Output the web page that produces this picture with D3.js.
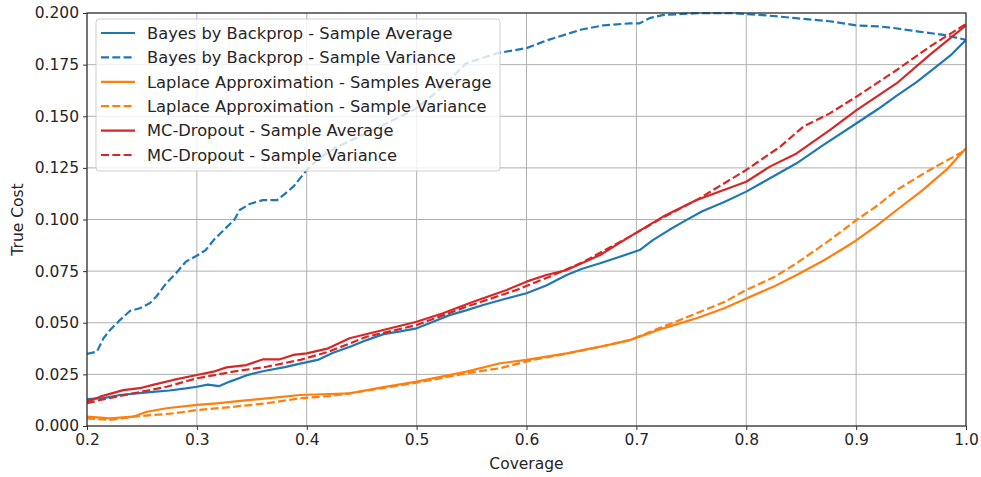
<!DOCTYPE html>
<html>
<head>
<meta charset="utf-8">
<script src="https://cdn.jsdelivr.net/npm/d3@7/dist/d3.min.js"></script>
<style>
  html, body { margin: 0; padding: 0; background: #fff; }
  svg { display: block; font-family: "DejaVu Sans", sans-serif; }
</style>
</head>
<body>
<svg id="chart" width="981" height="477"></svg>
<script>
// Coverage / true-cost curves for three uncertainty methods
const xTicks = [0.2, 0.3, 0.4, 0.5, 0.6, 0.7, 0.8, 0.9, 1.0];
const yTicks = [0.000, 0.025, 0.050, 0.075, 0.100, 0.125, 0.150, 0.175, 0.200];

const bayesAvg = [
  [0.200, 0.0130], [0.215, 0.0135], [0.230, 0.0150], [0.245, 0.0158], [0.260, 0.0165],
  [0.275, 0.0172], [0.290, 0.0182], [0.300, 0.0190], [0.310, 0.0200], [0.320, 0.0193],
  [0.330, 0.0215], [0.345, 0.0245], [0.360, 0.0265], [0.380, 0.0285], [0.394, 0.0302],
  [0.410, 0.0320], [0.424, 0.0355], [0.440, 0.0385], [0.4545, 0.0416], [0.470, 0.0445],
  [0.485, 0.0458], [0.500, 0.0473], [0.515, 0.0505], [0.530, 0.0537], [0.545, 0.0560],
  [0.5606, 0.0586], [0.580, 0.0615], [0.600, 0.0643], [0.618, 0.0680], [0.6365, 0.0731],
  [0.650, 0.0760], [0.667, 0.0788], [0.685, 0.0820], [0.703, 0.0852], [0.715, 0.0900],
  [0.730, 0.0950], [0.7457, 0.0998], [0.760, 0.1040], [0.780, 0.1085], [0.800, 0.1135],
  [0.820, 0.1195], [0.8458, 0.1272], [0.870, 0.1360], [0.9004, 0.1466], [0.920, 0.1535],
  [0.937, 0.1600], [0.955, 0.1665], [0.973, 0.1740], [0.987, 0.1800], [1.000, 0.1870]
];

const bayesVar = [
  [0.200, 0.0349], [0.209, 0.0360], [0.215, 0.0425], [0.221, 0.0465], [0.230, 0.0513],
  [0.239, 0.0557], [0.248, 0.0570], [0.257, 0.0594], [0.263, 0.0626], [0.272, 0.0690],
  [0.281, 0.0740], [0.290, 0.0796], [0.301, 0.0828], [0.308, 0.0852], [0.316, 0.0905],
  [0.334, 0.0998], [0.339, 0.1046], [0.348, 0.1075], [0.360, 0.1094], [0.373, 0.1094],
  [0.379, 0.1119], [0.388, 0.1160], [0.400, 0.1240], [0.412, 0.1300], [0.427, 0.1350],
  [0.447, 0.1400], [0.467, 0.1450], [0.497, 0.1530], [0.512, 0.1590], [0.527, 0.1660],
  [0.545, 0.1756], [0.573, 0.1805], [0.600, 0.1830], [0.620, 0.1870], [0.650, 0.1920],
  [0.670, 0.1940], [0.694, 0.1950], [0.703, 0.1950], [0.712, 0.1975], [0.724, 0.1990],
  [0.755, 0.1999], [0.785, 0.2000], [0.815, 0.1990], [0.845, 0.1975], [0.876, 0.1960],
  [0.900, 0.1940], [0.921, 0.1935], [0.936, 0.1926], [0.957, 0.1910], [0.981, 0.1893],
  [1.000, 0.1870]
];

const laplaceAvg = [
  [0.200, 0.0045], [0.221, 0.0037], [0.242, 0.0045], [0.2543, 0.0069], [0.2725, 0.0086],
  [0.300, 0.0102], [0.318, 0.0110], [0.333, 0.0118], [0.3635, 0.0134], [0.394, 0.0150],
  [0.420, 0.0155], [0.439, 0.0158], [0.470, 0.0188], [0.500, 0.0215], [0.5455, 0.0263],
  [0.576, 0.0304], [0.600, 0.0320], [0.6365, 0.0352], [0.667, 0.0384], [0.694, 0.0416],
  [0.7244, 0.0473], [0.7548, 0.0522], [0.780, 0.0570], [0.800, 0.0618], [0.825, 0.0675],
  [0.8458, 0.0731], [0.870, 0.0800], [0.891, 0.0868], [0.9004, 0.0900], [0.920, 0.0975],
  [0.937, 0.1046], [0.960, 0.1140], [0.982, 0.1240], [1.000, 0.1345]
];

const laplaceVar = [
  [0.200, 0.0037], [0.221, 0.0030], [0.242, 0.0045], [0.260, 0.0053], [0.2785, 0.0061],
  [0.300, 0.0077], [0.333, 0.0093], [0.3635, 0.0110], [0.394, 0.0134], [0.420, 0.0145],
  [0.439, 0.0158], [0.470, 0.0185], [0.500, 0.0210], [0.5455, 0.0255], [0.576, 0.0280],
  [0.606, 0.0320], [0.6365, 0.0350], [0.667, 0.0384], [0.694, 0.0416], [0.7244, 0.0481],
  [0.7548, 0.0546], [0.780, 0.0600], [0.800, 0.0659], [0.825, 0.0720], [0.8458, 0.0788],
  [0.876, 0.0900], [0.9004, 0.0998], [0.920, 0.1070], [0.937, 0.1143], [0.967, 0.1240],
  [1.000, 0.1337]
];

const mcAvg = [
  [0.200, 0.0118], [0.212, 0.0142], [0.233, 0.0174], [0.248, 0.0183], [0.260, 0.0199],
  [0.2785, 0.0223], [0.300, 0.0247], [0.315, 0.0263], [0.327, 0.0284], [0.345, 0.0295],
  [0.3604, 0.0323], [0.3756, 0.0323], [0.3877, 0.0344], [0.400, 0.0352], [0.4196, 0.0376],
  [0.439, 0.0425], [0.4696, 0.0465], [0.500, 0.0505], [0.524, 0.0546], [0.5515, 0.0602],
  [0.582, 0.0659], [0.600, 0.0699], [0.618, 0.0731], [0.6365, 0.0755], [0.667, 0.0828],
  [0.694, 0.0917], [0.7244, 0.1014], [0.7548, 0.1094], [0.800, 0.1183], [0.8215, 0.1256],
  [0.8458, 0.1320], [0.876, 0.1433], [0.9004, 0.1530], [0.937, 0.1660], [0.967, 0.1797],
  [1.000, 0.1940]
];

const mcVar = [
  [0.200, 0.0110], [0.212, 0.0126], [0.242, 0.0158], [0.2725, 0.0190], [0.300, 0.0231],
  [0.333, 0.0263], [0.3635, 0.0287], [0.394, 0.0320], [0.420, 0.0360], [0.4545, 0.0432],
  [0.500, 0.0489], [0.5455, 0.0578], [0.591, 0.0659], [0.621, 0.0723], [0.650, 0.0790],
  [0.694, 0.0917], [0.7244, 0.1010], [0.7548, 0.1094], [0.800, 0.1240], [0.831, 0.1353],
  [0.852, 0.1450], [0.876, 0.1514], [0.9004, 0.1595], [0.937, 0.1724], [0.967, 0.1837],
  [1.000, 0.1947]
];

const seriesNames = [
  "Bayes by Backprop - Sample Average",
  "Bayes by Backprop - Sample Variance",
  "Laplace Approximation - Samples Average",
  "Laplace Approximation - Sample Variance",
  "MC-Dropout - Sample Average",
  "MC-Dropout - Sample Variance"
];
const seriesData = [bayesAvg, bayesVar, laplaceAvg, laplaceVar, mcAvg, mcVar];
const seriesColors = ["#1f77b4", "#1f77b4", "#ff7f0e", "#ff7f0e", "#d62728", "#d62728"];
const seriesDashed = [false, true, false, true, false, true];

const margin = { left: 87, right: 15, top: 13, bottom: 51 };
const W = 981, H = 477;
const svg = d3.select("#chart");

const x = d3.scaleLinear().domain([0.2, 1.0]).range([margin.left, W - margin.right]);
const y = d3.scaleLinear().domain([0, 0.2]).range([H - margin.bottom, margin.top]);

// grid
const grid = svg.append("g");
grid.selectAll("line.gx").data(xTicks).join("line")
  .attr("x1", d => x(d)).attr("x2", d => x(d))
  .attr("y1", y(0)).attr("y2", y(0.2))
  .attr("stroke", "#b0b0b0").attr("stroke-width", 1);
grid.selectAll("line.gy").data(yTicks).join("line")
  .attr("y1", d => y(d)).attr("y2", d => y(d))
  .attr("x1", x(0.2)).attr("x2", x(1.0))
  .attr("stroke", "#b0b0b0").attr("stroke-width", 1);

// lines
svg.append("clipPath").attr("id", "plotclip").append("rect")
  .attr("x", x(0.2)).attr("y", y(0.2) - 2)
  .attr("width", x(1.0) - x(0.2)).attr("height", y(0) - y(0.2) + 2);

const line = d3.line().x(d => x(d[0])).y(d => y(d[1])).curve(d3.curveLinear);
const lines = svg.append("g").attr("clip-path", "url(#plotclip)");
seriesData.forEach((data, i) => {
  lines.append("path")
    .attr("d", line(data))
    .attr("fill", "none")
    .attr("stroke", seriesColors[i])
    .attr("stroke-width", 2.2)
    .attr("stroke-linejoin", "round")
    .attr("stroke-dasharray", seriesDashed[i] ? "8,3.3" : null);
});

// axes
const xAxis = d3.axisBottom(x).tickValues(xTicks).tickFormat(d3.format(".1f")).tickSize(4).tickPadding(4);
const yAxis = d3.axisLeft(y).tickValues(yTicks).tickFormat(d3.format(".3f")).tickSize(4).tickPadding(4);

const gx = svg.append("g").attr("transform", `translate(0,${y(0)})`).call(xAxis);
const gy = svg.append("g").attr("transform", `translate(${x(0.2)},0)`).call(yAxis);
[gx, gy].forEach(g => {
  g.select(".domain").remove();
  g.selectAll(".tick line").attr("stroke", "#333").attr("stroke-width", 1);
  g.selectAll(".tick text").attr("fill", "#262626")
    .style("font-family", "'DejaVu Sans', sans-serif").style("font-size", "15.5px");
});

// frame
svg.append("rect")
  .attr("x", x(0.2)).attr("y", y(0.2))
  .attr("width", x(1.0) - x(0.2)).attr("height", y(0) - y(0.2))
  .attr("fill", "none").attr("stroke", "#333").attr("stroke-width", 1.2);

// axis titles
svg.append("text")
  .attr("x", (x(0.2) + x(1.0)) / 2).attr("y", 469)
  .attr("text-anchor", "middle").attr("fill", "#262626")
  .style("font-size", "15.5px").text("Coverage");
svg.append("text")
  .attr("transform", `translate(23,${(y(0) + y(0.2)) / 2}) rotate(-90)`)
  .attr("text-anchor", "middle").attr("fill", "#262626")
  .style("font-size", "15.5px").text("True Cost");

// legend
const lg = svg.append("g");
lg.append("rect")
  .attr("x", 96).attr("y", 19).attr("width", 404).attr("height", 152)
  .attr("rx", 3).attr("ry", 3)
  .attr("fill", "rgba(255,255,255,0.8)").attr("stroke", "#d0d0d0").attr("stroke-width", 1);
seriesNames.forEach((name, i) => {
  const cy = 33 + i * 24.4;
  lg.append("line")
    .attr("x1", 101).attr("x2", 135).attr("y1", cy).attr("y2", cy)
    .attr("stroke", seriesColors[i]).attr("stroke-width", 2.2)
    .attr("stroke-dasharray", seriesDashed[i] ? "8,3.3" : null);
  lg.append("text")
    .attr("x", 147).attr("y", cy).attr("dy", "0.35em")
    .attr("fill", "#262626").style("font-size", "16.3px").text(name);
});
</script>
</body>
</html>
